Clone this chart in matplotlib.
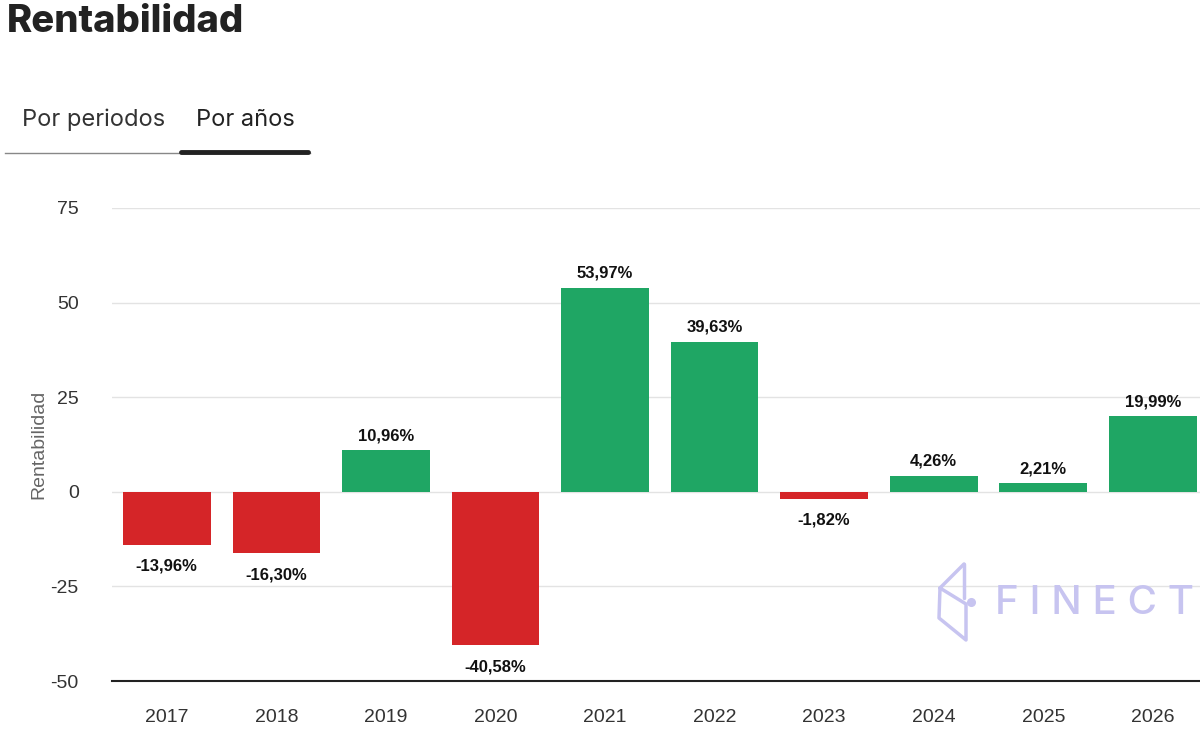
import matplotlib
matplotlib.use("Agg")
import matplotlib.pyplot as plt
from matplotlib.lines import Line2D

# datos de rentabilidad anual (%)
years = ["2017", "2018", "2019", "2020", "2021", "2022", "2023", "2024", "2025", "2026"]
returns = [-13.96, -16.30, 10.96, -40.58, 53.97, 39.63, -1.82, 4.26, 2.21, 19.99]
yticks = [-50, -25, 0, 25, 50, 75]

RED = "#d52528"
GREEN = "#1fa664"
AXFONT = ["Liberation Sans", "DejaVu Sans"]
UIFONT = ["Inter", "DejaVu Sans"]

fig = plt.figure(figsize=(12, 7.5), dpi=100)
ax = fig.add_axes([112 / 1200, 1 - 681 / 750, 1 - 112 / 1200, (681 - 208) / 750])

x = list(range(len(years)))
colors = [GREEN if v >= 0 else RED for v in returns]
ax.bar(x, returns, width=0.8, color=colors, zorder=3)

for xi, v in zip(x, returns):
    txt = f"{v:.2f}".replace(".", ",") + "%"
    ax.annotate(txt, (xi, v), xytext=(0, 5 if v >= 0 else -10),
                textcoords="offset points", ha="center",
                va="bottom" if v >= 0 else "top",
                fontsize=12, fontweight="bold", family=AXFONT, color="#111111", zorder=4)

ax.set_ylim(-50, 75)
ax.set_xlim(-0.5, 9.43)
ax.set_yticks(yticks)
ax.set_yticklabels([str(t) for t in yticks], family=AXFONT, fontsize=14, color="#333333")
ax.set_xticks(x)
ax.set_xticklabels(years, family=AXFONT, fontsize=14, color="#333333")
ax.tick_params(axis="y", length=0, pad=24)
ax.tick_params(axis="x", length=0, pad=20)
ax.grid(axis="y", color="#e3e3e3", linewidth=1, zorder=0)
for s in ["top", "right", "left"]:
    ax.spines[s].set_visible(False)
ax.spines["bottom"].set_color("#222222")
ax.spines["bottom"].set_linewidth(1.5)
ax.set_ylabel("Rentabilidad", family=AXFONT, fontsize=14, color="#666666", labelpad=2)

# cabecera
fig.text(7 / 1200, 1 - 22 / 750, "Rentabilidad", family=UIFONT, fontsize=27.5,
         fontweight="heavy", color="#222222", va="center", ha="left")
fig.text(22 / 1200, 1 - 120 / 750, "Por periodos", family=UIFONT, fontsize=17,
         color="#333333", va="center", ha="left")
fig.text(196 / 1200, 1 - 120 / 750, "Por años", family=UIFONT, fontsize=17,
         color="#222222", va="center", ha="left")
fig.add_artist(Line2D([5 / 1200, 310 / 1200], [1 - 153 / 750] * 2, color="#888888", lw=1))
fig.add_artist(Line2D([181 / 1200, 308 / 1200], [1 - 152 / 750] * 2, color="#222222",
                      lw=3.5, solid_capstyle="round"))

# marca de agua
WM = "#c7c4f0"
logo = [
    [(964, 564), (940, 588), (939, 618), (966, 640), (966, 604), (940, 588)],
    [(964, 564), (964, 598)],
]
for seg in logo:
    fig.add_artist(Line2D([p[0] / 1200 for p in seg], [1 - p[1] / 750 for p in seg],
                          color=WM, lw=2.5, solid_joinstyle="round", solid_capstyle="round"))
fig.add_artist(Line2D([971 / 1200], [1 - 602 / 750], marker="o", ms=5.5, color=WM, lw=0))
fig.text(995 / 1200, 1 - 603 / 750, "F I N E C T", family=UIFONT, fontsize=29,
         fontweight="medium", color=WM, va="center", ha="left")

fig.savefig("out.png", dpi=100)
